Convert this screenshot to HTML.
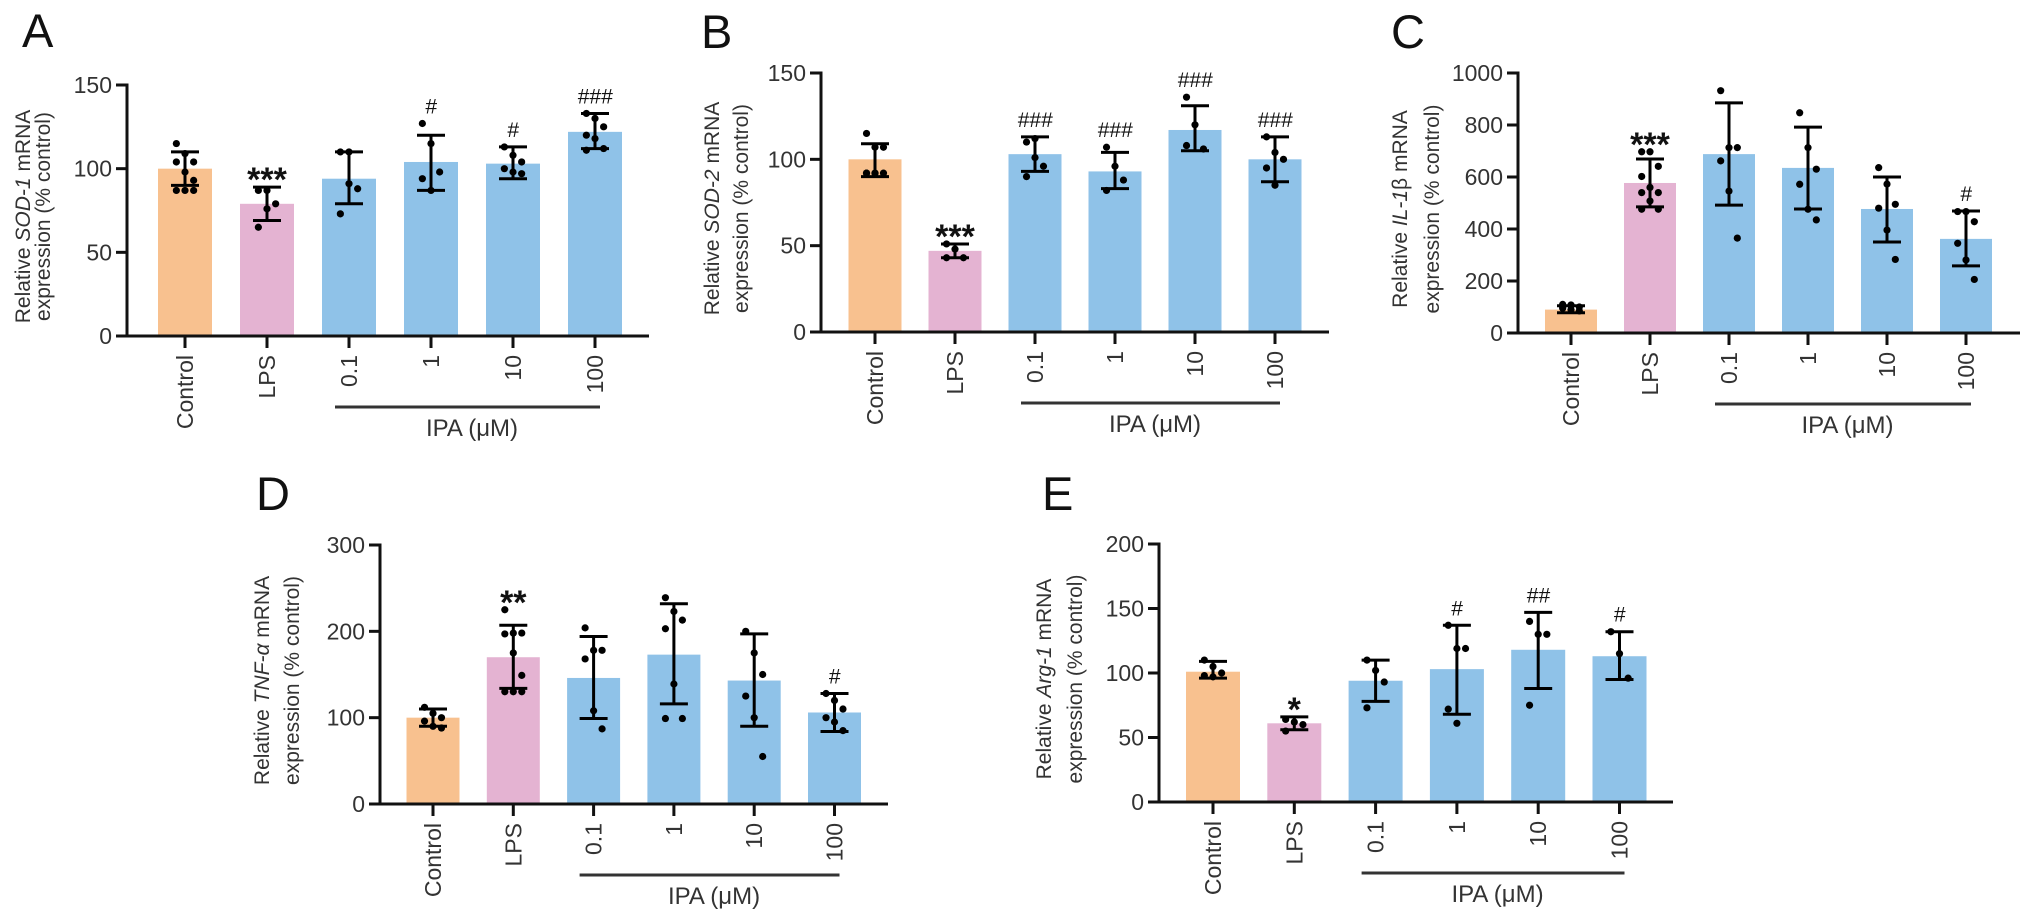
<!DOCTYPE html>
<html><head><meta charset="utf-8"><style>
html,body{margin:0;padding:0;background:#fff;}
svg{display:block;font-family:"Liberation Sans",Arial,sans-serif;}
</style></head><body>
<svg id="fig" width="2032" height="924" viewBox="0 0 2032 924" xmlns="http://www.w3.org/2000/svg"></svg>
<script>
// ---- Data ----
const categories = ["Control","LPS","0.1","1","10","100"];
// Panel A: SOD-1
const aMeans = [100,79,94,104,103,122];
const aErrHi = [110,89,110,120,113,133];
const aErrLo = [90,69,79,87,94,112];
const aPoints = [[115,109,104,104,98,93,87,87,87],[87,87,79,65,76],[110,91,88,73,110],[127,115,98,94,87],[113,108,104,100,98,97],[133,130,125,120,118,112,111]];
const aSig = ["","***","","#","#","###"];
const aTicks = [0,50,100,150];
// Panel B: SOD-2
const bMeans = [100,47,103,93,117,100];
const bErrHi = [109,51,113,104,131,113];
const bErrLo = [90,43,93,83,105,87];
const bPoints = [[115,107,107,92,92,92,92,92],[51,48,43,43],[110,101,96,90,112],[107,96,88,82],[136,120,106,108],[113,104,100,95,85]];
const bSig = ["","***","###","###","###","###"];
const bTicks = [0,50,100,150];
// Panel C: IL-1beta
const cMeans = [90,577,688,635,477,362];
const cErrHi = [105,669,885,792,600,469];
const cErrLo = [78,485,492,477,350,258];
const cPoints = [[110,105,100,95,90,85,100,108],[697,697,641,602,560,540,540,508,476,476],[932,713,713,662,546,365],[847,713,630,572,476,435],[636,573,495,480,396,283],[467,467,428,345,281,206]];
const cSig = ["","***","","","","#"];
const cTicks = [0,200,400,600,800,1000];
// Panel D: TNF-alpha
const dMeans = [100,170,146,173,143,106];
const dErrHi = [110,207,194,232,197,128];
const dErrLo = [90,134,99,116,90,84];
const dPoints = [[112,105,100,96,90,88],[225,198,198,197,175,149,130,130,130],[204,178,178,168,108,87],[239,223,213,203,139,99,99],[200,175,150,125,100,55],[128,120,110,100,95,85]];
const dSig = ["","**","","","","#"];
const dTicks = [0,100,200,300];
// Panel E: Arg-1
const eMeans = [101,61,94,103,118,113];
const eErrHi = [109,66,110,137,147,132];
const eErrLo = [96,56,78,68,88,95];
const ePoints = [[110,105,100,98,97],[64,62,60,55],[110,102,93,73],[137,119,119,72,61],[140,130,130,75],[132,115,96]];
const eSig = ["","*","","#","##","#"];
const eTicks = [0,50,100,150,200];

const colors = ["#F8C18F","#E4B3D2","#8FC2E8","#8FC2E8","#8FC2E8","#8FC2E8"];
const NS = "http://www.w3.org/2000/svg";
const svg = document.getElementById("fig");

function mk(tag, attrs, parent){
  const e = document.createElementNS(NS, tag);
  for (const k in attrs) e.setAttribute(k, attrs[k]);
  (parent||svg).appendChild(e);
  return e;
}

function drawPanel(L, means, hi, lo, pts, sig, ticks, max, name){
  const g = mk("g", {});
  
  
  const yS = v => L.y0 - (v / max) * (L.y0 - L.yT);
  const xS = i => L.c0 + i * L.sp;
  const let_ = mk("text", {x:L.lx, y:L.ly, "font-size":47, fill:"#111"}, g);
  let_.textContent = name.toUpperCase();
  
  
  means.forEach((m, i) => {
    const r = mk("rect", {x:xS(i)-L.bw/2, y:yS(m), width:L.bw, height:L.y0-yS(m), fill:colors[i]}, g);
    
    
  });
  pts.forEach((arr, i) => {
    const n = arr.length;
    arr.forEach((v, j) => {
      const off = n > 1 ? ((j % 3) - 1) * (L.bw * 0.16) : 0;
      const c = mk("circle", {cx:xS(i)+off, cy:yS(v), r:3.6, fill:"#000"}, g);
      
      
    });
  });
  means.forEach((m, i) => {
    const x = xS(i), cw = 14;
    const eg = mk("g", {stroke:"#000", "stroke-width":3}, g);
    
    
    mk("line", {x1:x, x2:x, y1:yS(hi[i]), y2:yS(lo[i])}, eg);
    mk("line", {x1:x-cw, x2:x+cw, y1:yS(hi[i]), y2:yS(hi[i])}, eg);
    mk("line", {x1:x-cw, x2:x+cw, y1:yS(lo[i]), y2:yS(lo[i])}, eg);
    if (sig[i]) {
      const top = Math.min(yS(hi[i]), yS(Math.max(...pts[i])));
      const star = sig[i][0] === "*";
      const t = mk("text", {x:x, y: top - (star ? -4 : 10), "text-anchor":"middle",
        "font-size": star ? 34 : 21, "font-weight": star ? "bold" : "normal",
        "font-style": star ? "normal" : "italic", fill:"#111"}, g);
      t.textContent = sig[i];
      
      
    }
  });
  const ax = mk("g", {stroke:"#111", "stroke-width":3}, g);
  
  
  mk("line", {x1:L.ax, x2:L.ax, y1:L.yT-1.5, y2:L.y0+1.5}, ax);
  mk("line", {x1:L.ax, x2:L.end, y1:L.y0, y2:L.y0}, ax);
  ticks.forEach(t => {
    mk("line", {x1:L.ax-11, x2:L.ax, y1:yS(t), y2:yS(t)}, ax);
    const tl = mk("text", {x:L.ax-15, y:yS(t)+8, "text-anchor":"end", "font-size":23, fill:"#333"}, g);
    tl.textContent = t;
    
    
  });
  categories.forEach((c, i) => {
    mk("line", {x1:xS(i), x2:xS(i), y1:L.y0, y2:L.y0+12}, ax);
    const tl = mk("text", {x:0, y:0, "text-anchor":"end", "font-size":23, fill:"#333",
      transform:"translate(" + (xS(i)+8) + "," + (L.y0+19) + ") rotate(-90)"}, g);
    tl.textContent = c;
    
    
  });
  const bl = mk("line", {x1:xS(2)-14, x2:xS(5)+5, y1:L.y0+71, y2:L.y0+71, stroke:"#333", "stroke-width":3}, g);
  
  
  const ipa = mk("text", {x:(xS(2)+xS(5))/2, y:L.y0+100, "text-anchor":"middle", "font-size":24, fill:"#333"}, g);
  ipa.textContent = "IPA (μM)";
  
  
  const yc = (L.y0 + L.yT) / 2 + 6;
  const t1 = mk("text", {x:0, y:0, "text-anchor":"middle", "font-size":21, fill:"#333",
    transform:"translate(" + (L.t1+7) + "," + yc + ") rotate(-90)"}, g);
  t1.innerHTML = 'Relative <tspan font-style="italic">' + L.gene + '</tspan>' + (L.geneTail||"") + ' mRNA';
  
  
  const t2 = mk("text", {x:0, y:0, "text-anchor":"middle", "font-size":21, fill:"#333",
    transform:"translate(" + (L.t2+7) + "," + yc + ") rotate(-90)"}, g);
  t2.textContent = "expression (% control)";
  
  
}

drawPanel({ax:127,y0:336,yT:85,c0:185,sp:82,bw:54,end:649,lx:22,ly:47,t1:23,t2:43,gene:"SOD-1"}, aMeans,aErrHi,aErrLo,aPoints,aSig,aTicks,150,"a");
drawPanel({ax:821,y0:332,yT:73,c0:875,sp:80,bw:53,end:1329,lx:701,ly:48,t1:712,t2:741,gene:"SOD-2"}, bMeans,bErrHi,bErrLo,bPoints,bSig,bTicks,150,"b");
drawPanel({ax:1518,y0:333,yT:73,c0:1571,sp:79,bw:52,end:2020,lx:1391,ly:48,t1:1400,t2:1432,gene:"IL-1",geneTail:"β"}, cMeans,cErrHi,cErrLo,cPoints,cSig,cTicks,1000,"c");
drawPanel({ax:380,y0:804,yT:545,c0:433,sp:80.3,bw:53,end:888,lx:256,ly:510,t1:262,t2:292,gene:"TNF-α"}, dMeans,dErrHi,dErrLo,dPoints,dSig,dTicks,300,"d");
drawPanel({ax:1159,y0:802,yT:544,c0:1213,sp:81.3,bw:54,end:1673,lx:1042,ly:510,t1:1044,t2:1075,gene:"Arg-1"}, eMeans,eErrHi,eErrLo,ePoints,eSig,eTicks,200,"e");
</script>
</body></html>
